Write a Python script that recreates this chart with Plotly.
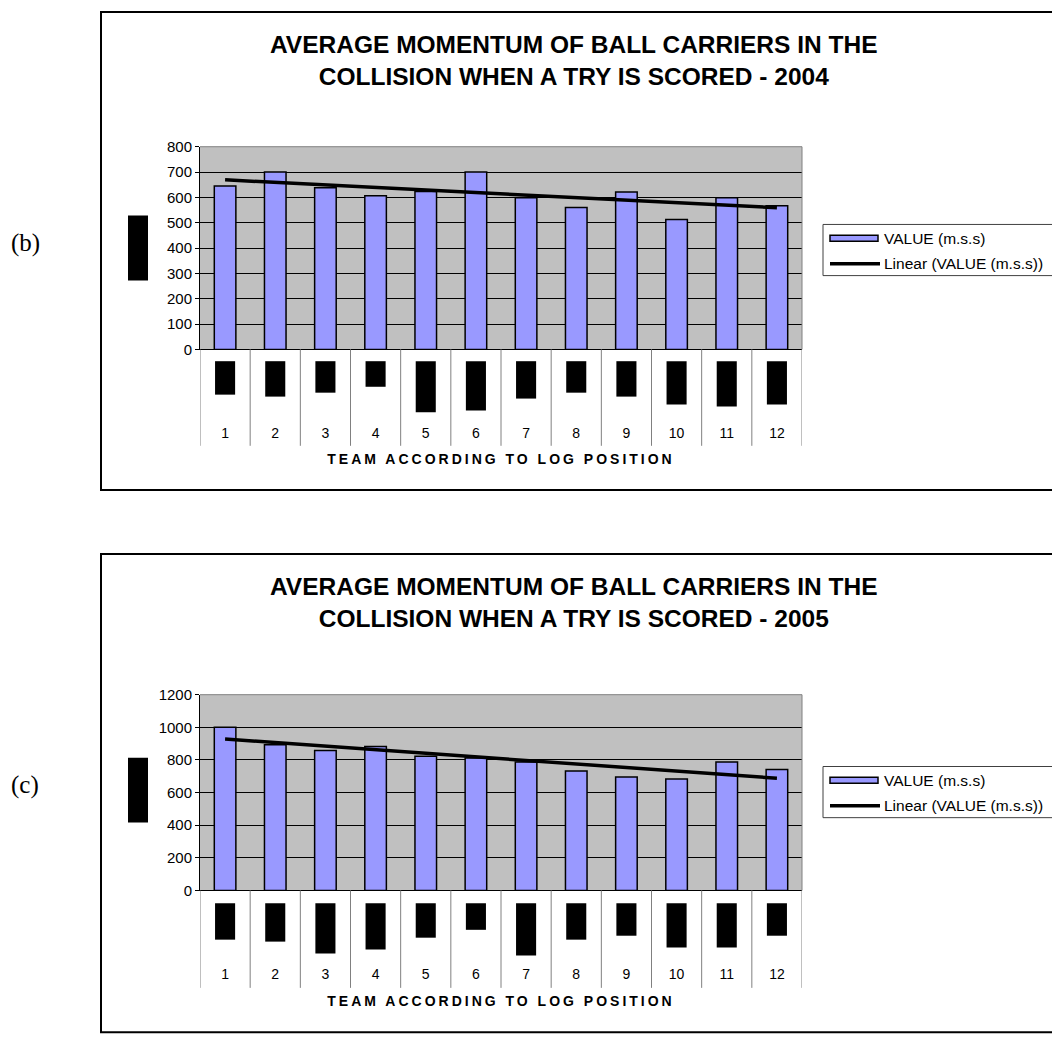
import numpy as np
import plotly.graph_objects as go

# ---------------- data ----------------
teams = [1, 2, 3, 4, 5, 6, 7, 8, 9, 10, 11, 12]
team_labels = ["1", "2", "3", "4", "5", "6", "7", "8", "9", "10", "11", "12"]
momentum_2004 = [645, 700, 638, 606, 623, 700, 599, 560, 621, 513, 599, 567]
momentum_2005 = [1000, 893, 858, 883, 823, 812, 788, 732, 695, 683, 788, 742]
series_name = "VALUE (m.s.s)"
trend_name = "Linear (VALUE (m.s.s))"
title_2004 = "AVERAGE MOMENTUM OF BALL CARRIERS IN THE<br>COLLISION WHEN A TRY IS SCORED - 2004"
title_2005 = "AVERAGE MOMENTUM OF BALL CARRIERS IN THE<br>COLLISION WHEN A TRY IS SCORED - 2005"
x_axis_title = "TEAM ACCORDING TO LOG POSITION"
panel_labels = ["(b)", "(c)"]

# ---------------- layout / style ----------------
W, H = 1052, 1048
FONT = "Liberation Sans, Arial, sans-serif"
SERIF = "Liberation Serif, Times New Roman, serif"
BAR_COLOR = "#9999FF"
PLOT_BG = "#C0C0C0"


def fx(px):
    return px / W


def fy(py):
    return 1 - py / H


# per-panel pixel geometry (offset, plot area top/bottom, y range, redaction depths)
panels = [
    dict(values=momentum_2004, title=title_2004, label=panel_labels[0], dy=0,
         plot_top=140, plot_bottom=346, ymax=800, dtick=100,
         redact=[34, 36, 32, 26, 52, 50, 38, 32, 36, 44, 46, 44]),
    dict(values=momentum_2005, title=title_2005, label=panel_labels[1], dy=551,
         plot_top=697, plot_bottom=896, ymax=1200, dtick=200,
         redact=[37, 39, 51, 47, 35, 27, 53, 37, 33, 45, 45, 33]),
]

PLOT_L, PLOT_R = 200, 802

fig = go.Figure()
shapes = []
annotations = []

for i, p in enumerate(panels):
    xa = "x" if i == 0 else "x2"
    ya = "y" if i == 0 else "y2"
    xname = "xaxis" if i == 0 else "xaxis2"
    yname = "yaxis" if i == 0 else "yaxis2"
    dy = p["dy"]
    vals = p["values"]

    fig.add_trace(go.Bar(
        x=teams, y=vals, xaxis=xa, yaxis=ya, name=series_name, width=0.43,
        marker=dict(color=BAR_COLOR, line=dict(color="black", width=1.5)),
        showlegend=False,
    ))
    slope, icpt = np.polyfit(teams, vals, 1)
    trend = [slope * t + icpt for t in teams]
    fig.add_trace(go.Scatter(
        x=teams, y=trend, xaxis=xa, yaxis=ya, name=trend_name, mode="lines",
        line=dict(color="black", width=3.5), showlegend=False,
    ))

    fig.layout[xname] = dict(
        domain=[fx(PLOT_L), fx(PLOT_R)], range=[0.5, 12.5], anchor=ya,
        tickmode="array", tickvals=teams, ticktext=team_labels, ticks="",
        showline=True, linecolor="black", linewidth=1, showgrid=False, zeroline=False,
        tickfont=dict(size=14, color="black", family=FONT), ticklabelstandoff=71,
        title=dict(text=x_axis_title, standoff=14,
                   font=dict(size=14, color="black", family=FONT, weight="bold")),
        fixedrange=True,
    )
    fig.layout[yname] = dict(
        domain=[fy(p["plot_bottom"]), fy(p["plot_top"])], range=[0, p["ymax"]],
        dtick=p["dtick"], anchor=xa, ticks="outside", ticklen=4, tickcolor="black",
        showline=True, linecolor="black", linewidth=1, showgrid=True,
        gridcolor="black", gridwidth=1, zeroline=False,
        tickfont=dict(size=15, color="black", family=FONT), fixedrange=True,
    )

    # outer chart border
    shapes.append(dict(type="rect", xref="paper", yref="paper",
                       x0=fx(101), x1=fx(1075), y0=fy(3 + dy), y1=fy(489 + dy),
                       line=dict(color="black", width=2), fillcolor="rgba(0,0,0,0)"))
    # plot area border (top and right, gray)
    shapes.append(dict(type="line", xref="paper", yref="paper",
                       x0=fx(PLOT_L), x1=fx(PLOT_R), y0=fy(p["plot_top"]), y1=fy(p["plot_top"]),
                       line=dict(color="#808080", width=1)))
    shapes.append(dict(type="line", xref="paper", yref="paper",
                       x0=fx(PLOT_R), x1=fx(PLOT_R), y0=fy(p["plot_top"]), y1=fy(p["plot_bottom"]),
                       line=dict(color="#808080", width=1)))
    # category dividers
    bounds = [t - 0.5 for t in teams] + [teams[-1] + 0.5]
    for b in bounds:
        shapes.append(dict(type="line", xref=xa, yref="paper", x0=b, x1=b,
                           y0=fy(p["plot_bottom"]), y1=fy(444 + dy),
                           line=dict(color="#808080", width=1)))
    # redacted category sub-labels
    for t, d in zip(teams, p["redact"]):
        shapes.append(dict(type="rect", xref=xa, yref="paper", x0=t - 0.2, x1=t + 0.2,
                           y0=fy(358 + dy), y1=fy(358 + dy + d),
                           fillcolor="black", line=dict(width=0)))
    # redacted y-axis title
    shapes.append(dict(type="rect", xref="paper", yref="paper",
                       x0=fx(128), x1=fx(148), y0=fy(210 + dy), y1=fy(276 + dy),
                       fillcolor="black", line=dict(width=0)))
    # legend (drawn manually to match the Excel look)
    shapes.append(dict(type="rect", xref="paper", yref="paper",
                       x0=fx(823), x1=fx(1075), y0=fy(219 + dy), y1=fy(271 + dy),
                       fillcolor="white", line=dict(color="#404040", width=1)))
    shapes.append(dict(type="rect", xref="paper", yref="paper",
                       x0=fx(830), x1=fx(878), y0=fy(230 + dy), y1=fy(236 + dy),
                       fillcolor=BAR_COLOR, line=dict(color="black", width=1.5)))
    shapes.append(dict(type="line", xref="paper", yref="paper",
                       x0=fx(830), x1=fx(880), y0=fy(259 + dy), y1=fy(259 + dy),
                       line=dict(color="black", width=3.5)))
    annotations.append(dict(text=series_name, xref="paper", yref="paper",
                            x=fx(882), y=fy(233 + dy), xanchor="left", yanchor="middle",
                            showarrow=False, font=dict(size=15.5, color="black", family=FONT)))
    annotations.append(dict(text=trend_name, xref="paper", yref="paper",
                            x=fx(882), y=fy(259 + dy), xanchor="left", yanchor="middle",
                            showarrow=False, font=dict(size=15.5, color="black", family=FONT)))
    # chart title
    annotations.append(dict(text=p["title"], xref="paper", yref="paper",
                            x=fx(574), y=fy(52 + dy), xanchor="center", yanchor="middle",
                            showarrow=False,
                            font=dict(size=24.5, color="black", family=FONT, weight="bold")))
    # panel label
    annotations.append(dict(text=p["label"], xref="paper", yref="paper",
                            x=fx(25), y=fy(238 + dy), xanchor="center", yanchor="middle",
                            showarrow=False, font=dict(size=25, color="black", family=SERIF)))

fig.update_layout(
    width=W, height=H, autosize=False,
    margin=dict(l=0, r=0, t=0, b=0),
    paper_bgcolor="white", plot_bgcolor=PLOT_BG,
    showlegend=False, bargap=0.5,
    shapes=shapes, annotations=annotations,
)

post = """
document.body.style.margin='0';
document.body.style.overflow='hidden';
document.querySelectorAll('.xtitle, .x2title').forEach(function(t){t.style.letterSpacing='3px';});
"""
fig.write_html("out.html", post_script=post, config={"displayModeBar": False})
